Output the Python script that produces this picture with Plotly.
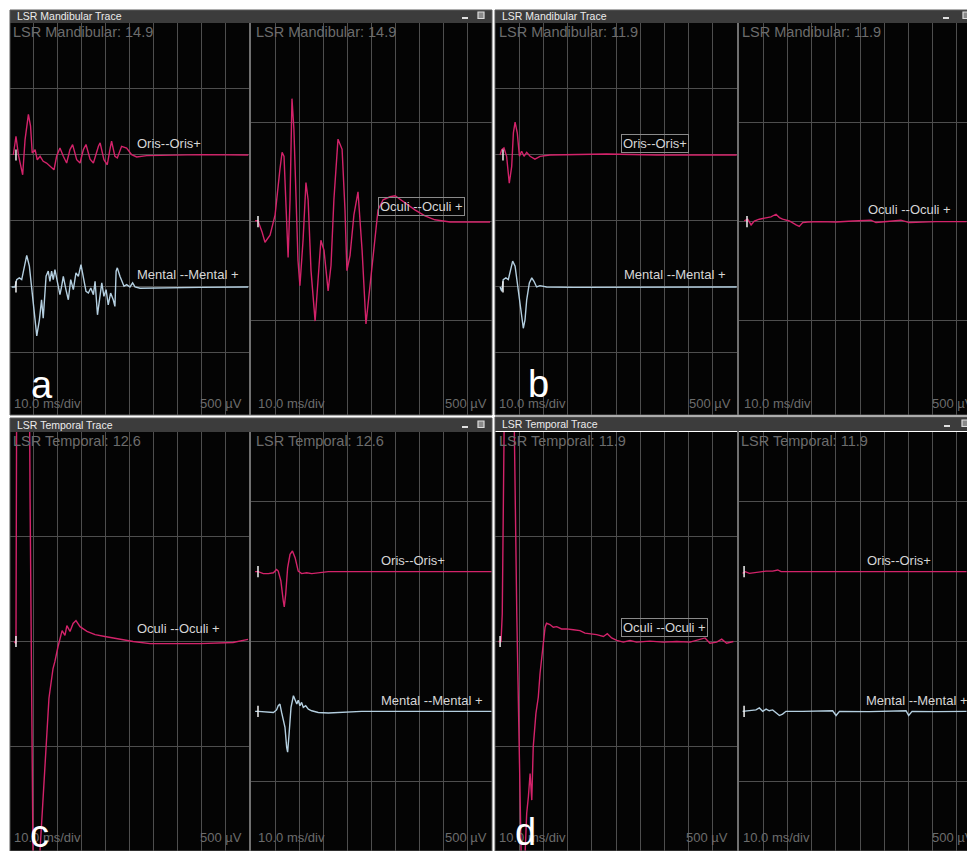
import plotly.graph_objects as go

W, H = 967, 851
FONT = "Liberation Sans, Arial, sans-serif"
RED = "#d3236a"
BLUE = "#b4cfe0"
GRID = "#4e4e4e"

# ---------------- DATA (time in ms, amplitude in microvolts) ----------------
# Panel a : LSR Mandibular 14.9
a_oris = [(1.4, 0), (2.5, 142), (3.5, 3), (5.3, -150), (6.3, 117), (7.7, 308), (8.6, 219), (9.3, 15),
          (10.5, 41), (11.4, -36), (12.6, -10), (13.9, -48), (15.3, -61), (17.4, -99), (18.4, -112),
          (19.5, -10), (20.9, 53), (22.3, -10), (23.7, -61), (25.1, 41), (26.2, 79), (27.9, -36),
          (29.3, -61), (30.7, 41), (31.8, 79), (33.5, -31), (34.9, -61), (37.0, 66), (37.7, 92),
          (39.3, -36), (40.7, -74), (41.8, 41), (42.5, 104), (43.9, -10), (44.9, -23), (46.7, 66),
          (48.8, 53), (50.9, 3), (53.0, -15), (57.2, -5), (65.6, 0), (80.0, 3), (99.7, 0)]
a_mental = [(0.7, 0), (2.1, 0), (2.8, 56), (3.9, 69), (4.9, 56), (5.9, 158), (7.0, 239), (8.1, 158),
            (9.1, -20), (10.2, -224), (11.2, -371), (12.3, -249), (13.2, -97), (13.9, -236), (15.1, 81),
            (16.0, 120), (16.7, 43), (17.4, 120), (18.1, 56), (18.8, 132), (19.8, 43), (20.9, -58),
            (21.6, 5), (22.3, 81), (23.4, -20), (24.4, -97), (25.4, 56), (26.5, -20), (27.6, 107),
            (28.6, 81), (29.7, 170), (30.7, 81), (31.8, -33), (32.8, -46), (33.8, -8), (34.9, -58),
            (35.6, 43), (36.6, -211), (37.4, -97), (38.4, 31), (39.3, -71), (40.2, -20), (41.1, -135),
            (42.1, -46), (43.2, -97), (43.9, -147), (44.4, 120), (44.9, 145), (46.0, 81), (47.7, 5),
            (48.8, 18), (50.2, 0), (51.3, 31), (52.3, 0), (54.4, -10), (58.6, -8), (65.6, -5),
            (79.5, -3), (99.7, 0)]
a_oculi = [(1.7, 4), (2.9, 4), (4.6, -53), (5.8, -104), (7.9, -68), (10.0, 34), (12.0, 263), (12.9, 349),
           (13.7, 328), (14.5, 110), (15.4, -181), (16.2, 110), (17.0, 619), (17.8, 466), (18.7, 110),
           (19.5, -196), (20.3, -323), (21.6, -94), (22.8, 196), (23.7, 110), (24.9, -247), (26.6, -501),
           (27.8, -298), (29.0, -94), (30.3, -145), (32.0, -349), (33.2, -221), (34.4, 110), (36.1, 415),
           (37.8, 364), (39.0, 59), (39.8, -247), (41.1, -170), (42.7, 34), (44.4, 150), (46.1, -145),
           (47.7, -516), (49.0, -374), (50.2, -247), (51.5, -94), (52.7, 59), (54.8, 110), (57.7, 125),
           (59.8, 130), (63.9, 94), (68.0, 59), (72.2, 29), (76.3, 9), (82.6, -2), (99.2, -2)]

# Panel b : LSR Mandibular 11.9
b_oris = [(2.1, 0), (2.8, 41), (3.7, 53), (4.8, -10), (5.9, -214), (6.9, -86), (7.6, 168), (8.3, 249),
          (9.2, 168), (10.1, -10), (11.0, 28), (12.0, -10), (13.1, 20), (14.5, -10), (16.5, -31),
          (18.6, -10), (22.7, 0), (46.1, 8), (66.8, 0), (99.9, 0)]
b_mental = [(2.1, 0), (2.8, -33), (3.4, 56), (4.5, 69), (5.5, 56), (6.5, 132), (7.3, 196), (8.3, 158),
            (9.2, 31), (10.3, -147), (11.2, -275), (11.7, -313), (12.4, -249), (13.1, -97), (14.2, 31),
            (15.2, 69), (16.1, 43), (17.2, 0), (18.6, 10), (21.3, 0), (32.4, -3), (53.0, -3), (99.9, 0)]
b_oculi = [(2.2, 3), (3.6, 12), (5.0, -17), (6.3, 3), (8.4, 12), (11.2, 17), (13.2, 24), (15.3, 37),
           (16.7, 20), (18.0, 12), (20.8, 3), (23.6, -17), (24.9, -24), (26.3, -5), (28.4, -2), (33.2, 0),
           (40.1, -2), (47.0, 3), (54.5, 7), (56.6, -5), (60.7, 0), (66.9, 7), (70.4, -5), (81.4, 0),
           (94.0, 0)]

# Panel c : LSR Temporal 12.6
c_oculi = [(1.7, 0), (2.5, -10), (2.9, 1633), (7.9, 1633), (8.4, 681), (9.6, -990), (10.9, -1461),
           (12.1, -1223), (12.6, -990), (14.2, -652), (16.3, -271), (18.0, -129), (18.8, -95), (20.1, -24),
           (21.8, 52), (23.0, 29), (23.8, 76), (25.1, 48), (26.4, 86), (27.6, 100), (29.3, 71), (32.2, 48),
           (35.6, 33), (39.7, 24), (44.8, 14), (51.5, 0), (58.6, -10), (65.7, -10), (79.5, -10),
           (93.3, -5), (99.6, 10)]
c_oris = [(1.7, 0), (3.0, 0), (5.1, -7), (7.2, -7), (9.3, -4), (10.6, 8), (11.3, 2), (12.4, -33),
          (13.4, -105), (13.8, -126), (14.4, -81), (15.2, 14), (16.2, 62), (17.2, 74), (18.3, 50),
          (19.6, 2), (21.0, -7), (23.1, -4), (25.2, -7), (32.1, 0), (52.8, 0), (99.9, 0)]
c_mental = [(1.7, 0), (3.0, 0), (9.3, -4), (10.6, 5), (11.3, 20), (12.0, 26), (12.7, -4), (13.4, -33),
            (14.1, -57), (14.8, -129), (15.2, -146), (15.8, -81), (16.6, 14), (17.6, 56), (18.3, 44),
            (19.0, 26), (19.6, 40), (20.3, 20), (21.0, 32), (21.7, 14), (22.7, 20), (23.8, 8), (25.2, 2),
            (27.9, -4), (32.1, -6), (39.0, -4), (45.9, 0), (99.9, 0)]

# Panel d : LSR Temporal 11.9
d_oculi = [(1.4, 0), (2.5, 0), (3.0, 132), (3.4, 1084), (4.1, 1401), (7.3, 1401), (7.9, 1084), (9.0, 132),
           (10.1, -662), (11.0, -1138), (12.0, -1138), (12.5, -979), (13.1, -820), (13.8, -741),
           (14.5, -630), (15.2, -757), (15.8, -503), (16.9, -344), (17.9, -265), (18.6, -154), (19.7, -27),
           (20.7, 68), (21.3, 87), (22.7, 81), (24.1, 68), (25.5, 71), (27.5, 60), (29.6, 60), (32.4, 56),
           (35.1, 52), (37.2, 40), (39.3, 37), (42.0, 33), (44.8, 24), (46.4, 37), (48.2, 17), (50.3, 5),
           (53.0, -3), (55.8, 5), (58.5, -3), (64.0, 2), (69.6, -3), (75.1, 0), (80.6, -3), (83.3, 5),
           (86.8, 17), (88.8, -8), (91.6, -3), (93.7, 11), (95.7, -8), (98.5, 0)]
d_oris = [(1.5, -6), (2.6, 0), (4.3, -6), (7.0, -2), (11.2, 2), (13.9, 2), (16.0, 6), (17.4, 0),
          (21.0, 0), (33.2, 0), (53.9, 2), (81.4, 0), (94.0, 0)]
d_mental = [(1.5, 0), (5.0, 2), (7.0, 5), (8.4, 12), (9.8, 0), (11.2, 8), (12.5, 2), (13.9, 5), (15.3, -4),
            (16.7, -15), (18.0, -10), (19.4, 0), (26.3, 0), (38.7, 2), (40.1, -15), (41.5, 0), (53.9, -1),
            (69.0, 2), (70.1, -15), (71.5, 0), (81.4, -1), (94.0, 0)]

# stimulus markers (ms) per sub-panel
stim_ms = {"aL": 2.5, "aR": 2.9, "bL": 3.3, "bR": 3.3, "cL": 2.5, "cR": 2.9, "dL": 2.1, "dR": 2.1}

# ---------------- LAYOUT GEOMETRY (pixels) ----------------
# key, x0, x1, y0, y1, xmax, ymin, ymax, ytick0
subplots = [
    ("aL", 10, 249, 23, 415, 100, 30, 3000, 0),
    ("aR", 251, 492, 23, 415, 100, 26, 2000, 0),
    ("bL", 495, 737, 23, 415, 100, 30, 3000, 0),
    ("bR", 739, 967, 23, 415, 94.2, 26, 2000, 0),
    ("cL", 10, 249, 432, 851, 100, 0, 2000, 0),
    ("cR", 251, 492, 432, 851, 100, 0, 1500, 250),
    ("dL", 495, 737, 432, 851, 100, 0, 2000, 0),
    ("dR", 739, 967, 432, 851, 94.2, 0, 1500, 250),
]
# channel: (subplot, data, baseline offset, colour)
channels = [
    ("aL", a_oris, 2000, RED), ("aL", a_mental, 1000, BLUE), ("aR", a_oculi, 1000, RED),
    ("bL", b_oris, 2000, RED), ("bL", b_mental, 1000, BLUE), ("bR", b_oculi, 1000, RED),
    ("cL", c_oculi, 1000, RED), ("cR", c_oris, 1000, RED), ("cR", c_mental, 500, BLUE),
    ("dL", d_oculi, 1000, RED), ("dR", d_oris, 1000, RED), ("dR", d_mental, 500, BLUE),
]


def fx(p):
    return p / W


def fy(p):
    return 1 - p / H


fig = go.Figure()
layout = dict(width=W, height=H, margin=dict(l=0, r=0, t=0, b=0), paper_bgcolor="white",
              showlegend=False)
idx = {}
for i, (key, x0, x1, y0, y1, xmax, ymin, ymax, yt0) in enumerate(subplots, start=1):
    idx[key] = i
    xa = "xaxis" if i == 1 else f"xaxis{i}"
    ya = "yaxis" if i == 1 else f"yaxis{i}"
    xr = "x" if i == 1 else f"x{i}"
    yr = "y" if i == 1 else f"y{i}"
    layout[xa] = dict(domain=[fx(x0), fx(x1)], range=[0, xmax], anchor=yr, tick0=0, dtick=10,
                      showgrid=True, gridcolor=GRID, gridwidth=1, zeroline=False,
                      showticklabels=False, ticks="", showline=False, fixedrange=True)
    layout[ya] = dict(domain=[fy(y1), fy(y0)], range=[ymin, ymax], anchor=xr, tick0=yt0, dtick=500,
                      showgrid=True, gridcolor=GRID, gridwidth=1, zeroline=False,
                      showticklabels=False, ticks="", showline=False, fixedrange=True)

fig.update_layout(**layout)
fig.update_layout(plot_bgcolor="#040404")

for key, data, base, col in channels:
    i = idx[key]
    xr = "x" if i == 1 else f"x{i}"
    yr = "y" if i == 1 else f"y{i}"
    t = [p[0] for p in data]
    v = [base + p[1] for p in data]
    fig.add_trace(go.Scatter(x=t, y=v, mode="lines", line=dict(color=col, width=1.4),
                             xaxis=xr, yaxis=yr, hoverinfo="skip"))
    fig.add_trace(go.Scatter(x=[stim_ms[key]], y=[base], mode="markers",
                             marker=dict(symbol="line-ns-open", size=8, color="#f0f0f0",
                                         line=dict(color="#f0f0f0", width=1.5)),
                             xaxis=xr, yaxis=yr, hoverinfo="skip"))

shapes = []
# title bars
for (x0, x1, y0, y1) in [(10, 492, 10, 23), (495, 975, 10, 23), (10, 492, 418, 432), (495, 975, 417, 431)]:
    shapes.append(dict(type="rect", xref="paper", yref="paper", x0=fx(x0), x1=fx(x1), y0=fy(y1), y1=fy(y0),
                       fillcolor="#3c3c3c", line=dict(width=0), layer="above"))
# panel borders
for (x0, x1, y0, y1) in [(10, 492, 10, 415), (495, 975, 10, 415), (10, 492, 418, 851), (495, 975, 417, 851)]:
    shapes.append(dict(type="rect", xref="paper", yref="paper", x0=fx(x0), x1=fx(x1), y0=fy(y1), y1=fy(y0),
                       fillcolor="rgba(0,0,0,0)", line=dict(color="#5a5a5a", width=1), layer="above"))
# sub-panel separators
for (xs, y0, y1) in [(250, 23, 415), (738, 23, 415), (250, 432, 851), (738, 431, 851)]:
    shapes.append(dict(type="line", xref="paper", yref="paper", x0=fx(xs), x1=fx(xs), y0=fy(y1), y1=fy(y0),
                       line=dict(color="#707070", width=2), layer="above"))
# window icons
for (xm, xb, ytop) in [(462, 478, 12), (943, 963, 12), (462, 478, 421), (944, 962, 420)]:
    shapes.append(dict(type="line", xref="paper", yref="paper", x0=fx(xm), x1=fx(xm + 6),
                       y0=fy(ytop + 6), y1=fy(ytop + 6), line=dict(color="#e0e0e0", width=2), layer="above"))
    shapes.append(dict(type="rect", xref="paper", yref="paper", x0=fx(xb), x1=fx(xb + 6),
                       y0=fy(ytop + 6.5), y1=fy(ytop), fillcolor="#8a8a8a",
                       line=dict(color="#dcdcdc", width=1.2), layer="above"))
fig.update_layout(shapes=shapes)

ann = []


def add_text(text, x, y, size, color, xanchor="left", box=False, yanchor="middle"):
    d = dict(text=text, x=fx(x), y=fy(y), xref="paper", yref="paper", showarrow=False,
             xanchor=xanchor, yanchor=yanchor, font=dict(family=FONT, size=size, color=color))
    if box:
        d.update(bordercolor="#8a8a8a", borderwidth=1, borderpad=1)
    ann.append(d)


# title bar texts
for txt, x, y in [("LSR Mandibular Trace", 15, 16.5), ("LSR Mandibular Trace", 500, 16.5),
                  ("LSR Temporal Trace", 15, 425), ("LSR Temporal Trace", 500, 424)]:
    add_text(txt, x, y, 10.5, "#ececec")
# header values
for txt, x, y in [("LSR Mandibular: 14.9", 11, 32), ("LSR Mandibular: 14.9", 254, 32),
                  ("LSR Mandibular: 11.9", 497, 32), ("LSR Mandibular: 11.9", 740, 32),
                  ("LSR Temporal: 12.6", 11, 441), ("LSR Temporal: 12.6", 254, 441),
                  ("LSR Temporal: 11.9", 497, 441), ("LSR Temporal: 11.9", 739, 441)]:
    add_text(txt, x, y, 14.5, "#6c6c6c")
# channel labels
for txt, x, y, box in [("Oris--Oris+", 135, 143, False), ("Mental --Mental +", 135, 274, False),
                       ("Oculi --Oculi +", 378, 207, True),
                       ("Oris--Oris+", 621, 143, True), ("Mental --Mental +", 622, 275, False),
                       ("Oculi --Oculi +", 866, 210, False),
                       ("Oculi --Oculi +", 135, 628, False),
                       ("Oris--Oris+", 379, 560, False), ("Mental --Mental +", 379, 700, False),
                       ("Oculi --Oculi +", 621, 627, True),
                       ("Oris--Oris+", 865, 560, False), ("Mental --Mental +", 864, 700, False)]:
    add_text(txt, x, y, 13, "#d6d6d6", box=box)
# scale labels
for x, y in [(12, 403), (256, 403), (497, 403), (742, 403), (12, 837), (256, 837), (497, 837), (741, 837)]:
    add_text("10.0 ms/div", x, y, 13, "#6c6c6c")
for x, y in [(244, 403), (489, 403), (733, 403), (976, 403), (244, 837), (489, 837), (730, 837), (976, 837)]:
    add_text("500 µV", x, y, 13, "#6c6c6c", xanchor="right")
# panel letters
for txt, x, y in [("a", 29, 385), ("b", 526, 384), ("c", 28, 834), ("d", 513, 832)]:
    add_text(txt, x, y, 38, "#ffffff")

fig.update_layout(annotations=ann)
fig.write_html("out.html", config={"displayModeBar": False},
               post_script="document.body.style.margin='0px';document.body.style.padding='0px';"
                           "document.body.style.overflow='hidden';")
